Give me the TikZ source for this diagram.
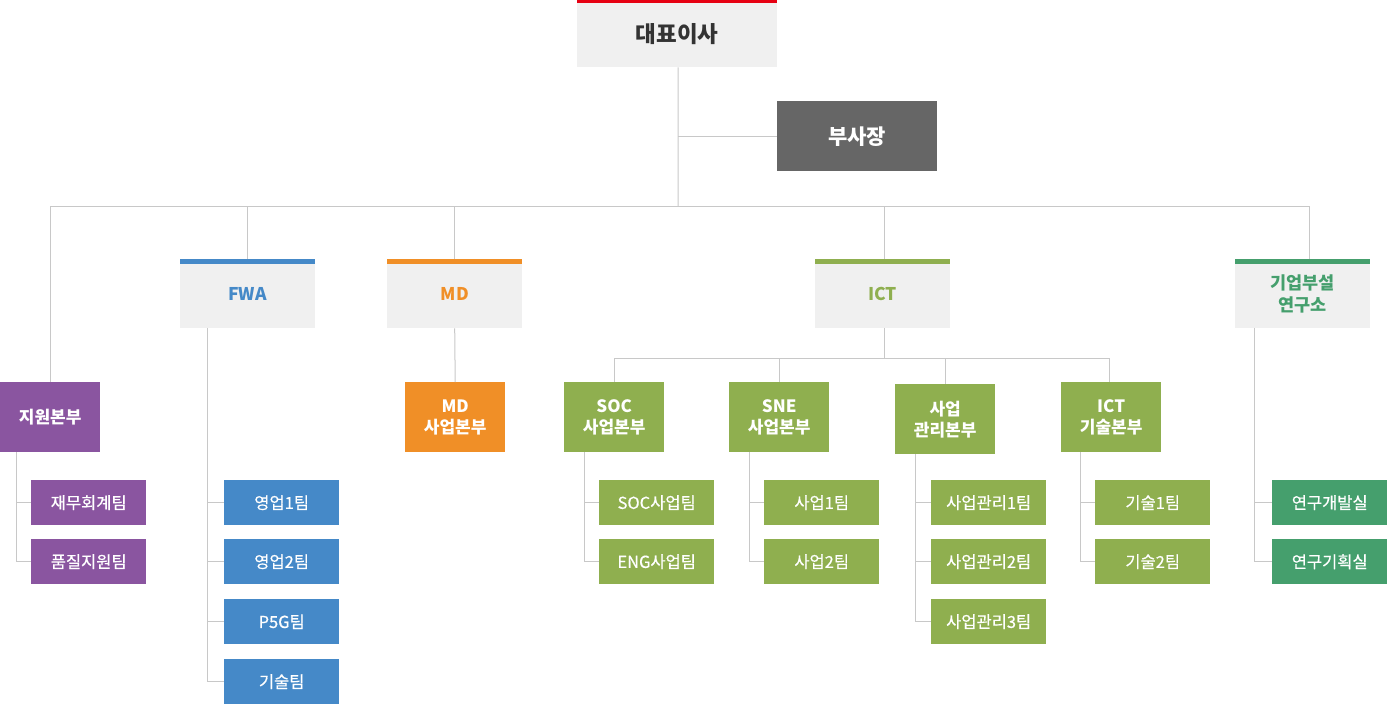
\documentclass[tikz,border=0pt]{standalone}
\usepackage{fontspec}
\setmainfont{Noto Sans CJK KR}
\newfontfamily\medfont{Noto Sans CJK KR}[FakeBold=0.5]
\usetikzlibrary{positioning}
\definecolor{lineGray}{HTML}{C8C8C8}
\definecolor{headGray}{HTML}{F0F0F0}
\definecolor{ceoRed}{HTML}{E60012}
\definecolor{vpGray}{HTML}{666666}
\definecolor{txtDark}{HTML}{333333}
\definecolor{supPurple}{HTML}{8A55A0}
\definecolor{fwaBlue}{HTML}{4589C8}
\definecolor{mdOrange}{HTML}{F08F27}
\definecolor{ictOlive}{HTML}{8FAF4F}
\definecolor{labGreen}{HTML}{459F6D}

\begin{document}
\begin{tikzpicture}[
    x=1pt, y=-1pt,
    every node/.style={
        inner sep=0pt,
        align=center,
        anchor=north west
    },
    headbox/.style={
        fill=headGray,
        text=#1,
        minimum width=135pt,
        minimum height=69pt,
        font=\bfseries\fontsize{17.5}{22}\selectfont,
        path picture={\fill[#1] (path picture bounding box.north west)
            rectangle ([yshift=-5pt]path picture bounding box.north east);}
    },
    deptbox/.style={
        fill=#1,
        text=white,
        minimum width=100pt,
        minimum height=70pt,
        font=\bfseries\fontsize{17}{21}\selectfont
    },
    teambox/.style={
        fill=#1,
        text=white,
        minimum width=115pt,
        minimum height=45pt,
        font=\medfont\fontsize{16.5}{18}\selectfont
    },
    line/.style={draw=lineGray, line width=1pt}
]
\useasboundingbox (0,0) rectangle (1387,704);

% ---------- TOP (CEO / VICE PRESIDENT)
\node (ceo) [fill=headGray, text=txtDark, minimum width=200pt, minimum height=67pt,
    font=\bfseries\fontsize{22.5}{24}\selectfont,
    path picture={\fill[ceoRed] (path picture bounding box.north west)
        rectangle ([yshift=-3pt]path picture bounding box.north east);}] at (577,0) {대표이사};
\node (vp) [fill=vpGray, text=white, minimum width=160pt, minimum height=70pt,
    font=\bfseries\fontsize{21}{22}\selectfont] at (777,101) {부사장};
\coordinate (topbus) at (678,206);

% ---------- SECOND ROW (DIVISIONS)
\node (fwa) [headbox=fwaBlue] at (180,259) {FWA};
\node (md) [headbox=mdOrange] at (387,259) {MD};
\node (ict) [headbox=ictOlive] at (815,259) {ICT};
\node (lab) [headbox=labGreen] at (1235,259) {기업부설\\연구소};
\node (support) [deptbox=supPurple] at (0,382) {지원본부};

% ---------- THIRD ROW (HEADQUARTERS)
\node (mdhq) [deptbox=mdOrange] at (405,382) {MD\\사업본부};
\node (soc) [deptbox=ictOlive] at (564,382) {SOC\\사업본부};
\node (sne) [deptbox=ictOlive] at (729,382) {SNE\\사업본부};
\node (mgmt) [deptbox=ictOlive] at (895,384) {사업\\관리본부};
\node (tech) [deptbox=ictOlive] at (1061,382) {ICT\\기술본부};
\coordinate (ictbus) at (884,358);

% ---------- TEAMS
\node (fin) [teambox=supPurple] at (31,480) {재무회계팀};
\node (qa) [teambox=supPurple] at (31,539) {품질지원팀};

\node (sales1) [teambox=fwaBlue] at (224,480) {영업1팀};
\node (sales2) [teambox=fwaBlue] at (224,539) {영업2팀};
\node (pfiveg) [teambox=fwaBlue] at (224,599) {P5G팀};
\node (fwatech) [teambox=fwaBlue] at (224,659) {기술팀};

\node (socteam) [teambox=ictOlive] at (599,480) {SOC사업팀};
\node (engteam) [teambox=ictOlive] at (599,539) {ENG사업팀};

\node (biz1) [teambox=ictOlive] at (764,480) {사업1팀};
\node (biz2) [teambox=ictOlive] at (764,539) {사업2팀};

\node (mgmt1) [teambox=ictOlive] at (931,480) {사업관리1팀};
\node (mgmt2) [teambox=ictOlive] at (931,539) {사업관리2팀};
\node (mgmt3) [teambox=ictOlive] at (931,599) {사업관리3팀};

\node (tech1) [teambox=ictOlive] at (1095,480) {기술1팀};
\node (tech2) [teambox=ictOlive] at (1095,539) {기술2팀};

\node (rnd) [teambox=labGreen] at (1272,480) {연구개발실};
\node (plan) [teambox=labGreen] at (1272,539) {연구기획실};

% ---------- CEO LINES
\draw[line] ([xshift=1pt]ceo.south) -- (topbus);
\draw[line] (vp.west) -- (vp.west -| topbus);
\draw[line] (support.north |- topbus) -- ([xshift=6.5pt]lab.north |- topbus);
\foreach \n in {support, fwa, md}
    \draw[line] (\n.north) -- (\n.north |- topbus);
\draw[line] ([xshift=1.5pt]ict.north) -- ([xshift=1.5pt]ict.north |- topbus);
\draw[line] ([xshift=6.5pt]lab.north) -- ([xshift=6.5pt]lab.north |- topbus);

% ---------- DIVISION LINES
\draw[line] (md.south) -- (mdhq.north);
\draw[line] (ict.south -| ictbus) -- (ictbus);
\draw[line] (soc.north |- ictbus) -- ([xshift=-2pt]tech.north |- ictbus);
\foreach \n in {soc, sne, mgmt}
    \draw[line] (\n.north) -- (\n.north |- ictbus);
\draw[line] ([xshift=-2pt]tech.north) -- ([xshift=-2pt]tech.north |- ictbus);

% ---------- TEAM LINES
\draw[line] ([xshift=-34pt]support.south) |- (fin.west);
\draw[line] ([xshift=-34pt]support.south) |- (qa.west);
\draw[line] ([xshift=-40pt]fwa.south) |- (fwatech.west);
\foreach \n in {sales1, sales2, pfiveg}
    \draw[line] (\n.west) -- ++(-16,0);
\draw[line] ([xshift=-30pt]soc.south) |- (socteam.west);
\draw[line] ([xshift=-30pt]soc.south) |- (engteam.west);
\draw[line] ([xshift=-30pt]sne.south) |- (biz1.west);
\draw[line] ([xshift=-30pt]sne.south) |- (biz2.west);
\draw[line] ([xshift=-30pt]mgmt.south) |- (mgmt3.west);
\foreach \n in {mgmt1, mgmt2}
    \draw[line] (\n.west) -- ++(-16,0);
\draw[line] ([xshift=-31pt]tech.south) |- (tech1.west);
\draw[line] ([xshift=-31pt]tech.south) |- (tech2.west);
\draw[line] ([xshift=-48pt]lab.south) |- (rnd.west);
\draw[line] ([xshift=-48pt]lab.south) |- (plan.west);

\end{tikzpicture}
\end{document}
